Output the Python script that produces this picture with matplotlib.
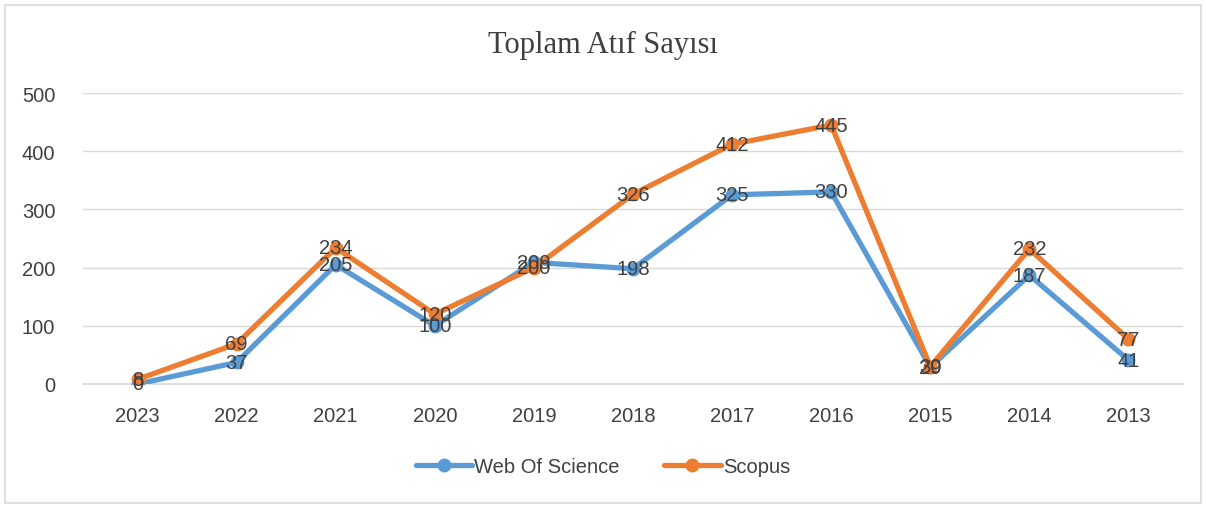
import matplotlib.pyplot as plt
from matplotlib.patches import Rectangle

years = ["2023", "2022", "2021", "2020", "2019", "2018", "2017", "2016", "2015", "2014", "2013"]
wos = [0, 37, 205, 100, 209, 198, 325, 330, 29, 187, 41]
scopus = [8, 69, 234, 120, 200, 326, 412, 445, 30, 232, 77]

blue = "#5B9BD5"
orange = "#ED7D31"
text_col = "#404040"

fig = plt.figure(figsize=(12.06, 5.06), dpi=100)
fig.patches.append(Rectangle((0.004, 0.004), 0.992, 0.985, transform=fig.transFigure,
                             fill=False, edgecolor="#D9D9D9", linewidth=1.2))
ax = fig.add_axes([83 / 1206, 1 - 385 / 506, 1100 / 1206, 291 / 506])

x = list(range(len(years)))
ax.plot(x, wos, color=blue, linewidth=3.8, marker="o", markersize=9,
        solid_capstyle="round", label="Web Of Science", zorder=3)
ax.plot(x, scopus, color=orange, linewidth=3.8, marker="o", markersize=9,
        solid_capstyle="round", label="Scopus", zorder=4)

# data labels centred on the points, like the original
for xi, v in zip(x, wos):
    ax.text(xi, v, str(v), ha="center", va="center", fontsize=14.5,
            color=text_col, family="Liberation Sans", zorder=5)
for xi, v in zip(x, scopus):
    ax.text(xi, v, str(v), ha="center", va="center", fontsize=14.5,
            color=text_col, family="Liberation Sans", zorder=5)

ax.set_xlim(-0.55, len(years) - 0.45)
ax.set_ylim(0, 500)
ax.set_yticks([0, 100, 200, 300, 400, 500])
ax.set_xticks(x)
ax.set_xticklabels(years)
ax.grid(axis="y", color="#D9D9D9", linewidth=1)
ax.set_axisbelow(True)
for s in ["top", "right", "left"]:
    ax.spines[s].set_visible(False)
ax.spines["bottom"].set_color("#D9D9D9")
ax.spines["bottom"].set_linewidth(1.2)
ax.tick_params(axis="x", length=0, labelsize=14.5, labelcolor=text_col, pad=16)
ax.tick_params(axis="y", length=0, labelsize=14.5, labelcolor=text_col, pad=20)
for lbl in ax.get_xticklabels() + ax.get_yticklabels():
    lbl.set_family("Liberation Sans")

fig.text(0.5, 1 - 45 / 506, "Toplam Atıf Sayısı", ha="center", va="center",
         fontsize=22, color=text_col, family="Liberation Serif")

fig.legend(loc="center", bbox_to_anchor=(0.5, 1 - 468 / 506), ncol=2, frameon=False,
           prop={"family": "Liberation Sans", "size": 14.5}, labelcolor=text_col,
           handlelength=2.8, columnspacing=2.2, handletextpad=0.1)

fig.savefig("out.png", dpi=100)
